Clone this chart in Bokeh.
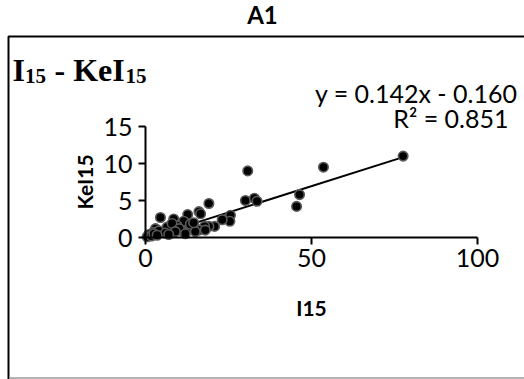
from bokeh.plotting import figure
from bokeh.models import Label, BoxAnnotation, FixedTicker, Range1d, LinearAxis
from bokeh.embed import file_html
from bokeh.resources import INLINE

# data
i15 = [77.6, 53.6, 46.4, 45.5, 30.8, 30.1, 32.8, 33.6, 19.1, 16.1, 16.6, 12.7, 8.5, 4.5,
       25.6, 25.4, 23.1, 20.8, 19.1, 17.8, 16.1, 14.1, 12.7, 11.5, 11.0, 9.5, 7.5, 5.5,
       3.0, 2.3, 1.0, 0.5, 6.5, 8.0, 10.2, 13.5, 4.0, 1.8, 2.5, 6.0, 9.0, 12.0, 3.5,
       15.0, 7.0, 14.5, 18.0]
kei15 = [11.0, 9.5, 5.8, 4.2, 9.0, 5.0, 5.3, 4.9, 4.6, 3.5, 3.2, 3.1, 2.5, 2.7,
         3.0, 2.2, 2.4, 1.5, 1.5, 1.5, 1.0, 1.3, 1.3, 2.2, 0.9, 1.6, 1.0, 0.7,
         1.2, 0.7, 0.4, 0.1, 1.4, 1.9, 1.2, 1.8, 0.9, 0.2, 0.5, 0.6, 0.8, 0.5, 0.3,
         0.8, 0.4, 2.0, 1.0]
slope = 0.142
intercept = -0.160
r2 = 0.851
x_ticks = [0, 50, 100]
y_ticks = [0, 5, 10, 15]
x_bounds = (0, 100)
y_bounds = (0, 15)

W, H = 524, 379
FL, FR, FT, FB = 145, 477, 126, 237  # plot-area edges in canvas pixels

xpx = (FR - FL) / (x_bounds[1] - x_bounds[0])
ypx = (FB - FT) / (y_bounds[1] - y_bounds[0])
def dx(px):
    return x_bounds[0] + (px - FL) / xpx
def dy(py):
    return y_bounds[0] + (FB - py) / ypx

p = figure(width=W, height=H, output_backend="svg", toolbar_location=None,
           x_range=Range1d(dx(0), dx(W)), y_range=Range1d(dy(H), dy(0)),
           x_axis_type=None, y_axis_type=None,
           min_border=0)
p.background_fill_color = "white"
p.border_fill_color = "white"
p.outline_line_color = None
p.grid.visible = False

xax = LinearAxis(fixed_location=0, bounds=x_bounds, ticker=FixedTicker(ticks=x_ticks),
                 axis_label="I15")
yax = LinearAxis(fixed_location=0, bounds=y_bounds, ticker=FixedTicker(ticks=y_ticks),
                 axis_label="KeI15")
for ax in (xax, yax):
    ax.axis_line_color = "black"
    ax.axis_line_width = 2
    ax.major_tick_line_color = "black"
    ax.major_tick_line_width = 2
    ax.major_tick_in = 0
    ax.major_tick_out = 7
    ax.minor_tick_line_color = None
    ax.major_label_text_font = "Lato"
    ax.major_label_text_font_size = "25px"
    ax.major_label_text_color = "black"
    ax.axis_label_text_font = "Lato"
    ax.axis_label_text_font_style = "bold"
    ax.axis_label_text_font_size = "21px"
    ax.axis_label_text_color = "black"
xax.major_label_standoff = 4
yax.major_label_standoff = 6
xax.axis_label_standoff = 25
yax.axis_label_standoff = 3
p.add_layout(xax, "below")
p.add_layout(yax, "left")

# outer chart border: black left/top, grey bottom
p.add_layout(BoxAnnotation(left=dx(8), right=dx(540), top=dy(36), bottom=dy(383),
                           fill_alpha=0, line_color="black", line_alpha=1, line_width=2))
p.add_layout(BoxAnnotation(left=dx(9), right=dx(540), top=dy(377.5), bottom=dy(377.5),
                           fill_alpha=0, line_color="#9a9a9a", line_alpha=1, line_width=1))

# trendline
xmin, xmax = min(i15), max(i15)
p.line([xmin, xmax], [slope * xmin + intercept, slope * xmax + intercept],
       line_color="black", line_width=2)

p.scatter(i15, kei15, size=9.5, fill_color="black", line_color="#5a5a5a", line_width=1.6)

def lab(text, x, y, size, font="Lato", style="normal", align="left", base="alphabetic"):
    p.add_layout(Label(x=dx(x), y=dy(y), text=text, text_font=font, text_font_style=style,
                       text_font_size=size, text_align=align, text_baseline=base,
                       text_color="black"))

lab("A1", 262, 14, "24px", style="bold", align="center", base="middle")
lab("I", 12, 69, "32px", font="Liberation Serif", style="bold")
lab("15", 24.5, 75, "21px", font="Liberation Serif", style="bold")
lab("- KeI", 54, 69, "32px", font="Liberation Serif", style="bold")
lab("15", 125, 75, "21px", font="Liberation Serif", style="bold")
lab(f"y = {slope:.3f}x - {abs(intercept):.3f}", 517, 92, "25px", align="right", base="middle")
lab(f"R² = {r2:.3f}", 508, 117, "25px", align="right", base="middle")

open("out.html", "w").write(file_html(p, INLINE))
